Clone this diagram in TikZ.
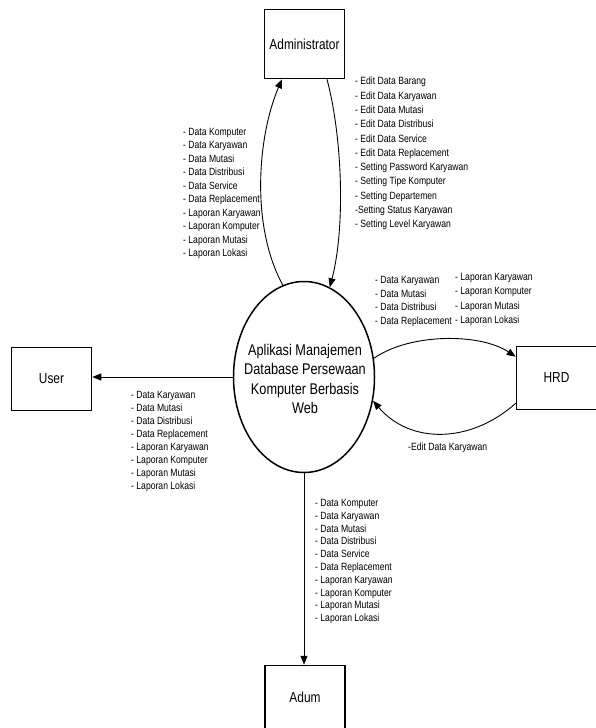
\documentclass[tikz,border=0pt]{standalone}
\usepackage{fontspec}
\setmainfont[FakeStretch=0.82]{Liberation Sans}
\usetikzlibrary{arrows.meta,shapes.geometric,calc}
\begin{document}
\begin{tikzpicture}[x=1pt,y=-1pt,
  ent/.style={draw, line width=1.5pt, minimum width=80pt, minimum height=63pt, inner sep=0pt, font=\fontsize{14.5}{17}\selectfont},
  flow/.style={line width=0.9pt, -{Triangle[length=9pt,width=7pt]}},
  lbl/.style={anchor=north west, inner sep=0pt, align=left},
  lblfont/.style={font=\fontsize{10.5}{#1}\selectfont},
]
\useasboundingbox (0,0) rectangle (596,728);
\clip (0,0) rectangle (596,728);

% process
\node[draw, ellipse, line width=1.5pt, minimum width=141pt, minimum height=191pt, inner sep=0pt] (proc) at (304,377) {};
\node[align=center, inner sep=0pt, font=\fontsize{15.5}{19.5}\selectfont] (proctext) at (305,379)
  {Aplikasi Manajemen\\Database Persewaan\\Komputer Berbasis\\Web};

% entities
\node[ent, minimum height=69pt] (adm) at (304.5,44) {Administrator};
\node[ent] (user) at (51.5,379) {User};
\node[ent] (hrd) at (556.5,378) {HRD};
\node[ent] (adum) at (305,697) {Adum};

% connectors
\draw[flow] (proc.103) .. controls (250,225) and (258,135) .. ($(adm.south)+(-22.5,0)$);
\draw[flow] ($(adm.south)+(22.5,0)$) .. controls (343,140) and (345,230) .. (proc.74);
\draw[flow] (proc.15) .. controls (410,333) and (480,333) .. ($(hrd.north west)+(0,11)$);
\draw[flow] ($(hrd.south west)+(0,-7)$) .. controls (470,444) and (410,444) .. (proc.-19);
\draw[flow] (proc.west) -- (proc.west -| user.east);
\draw[flow] (proc.south) -- (proc.south |- adum.north);

% labels
\node[lbl, lblfont=14.3] (admr) at (355,77) {- Edit Data Barang\\- Edit Data Karyawan\\- Edit Data Mutasi\\- Edit Data Distribusi\\- Edit Data Service\\- Edit Data Replacement\\- Setting Password Karyawan\\- Setting Tipe Komputer\\- Setting Departemen\\-Setting Status Karyawan\\- Setting Level Karyawan};
\node[lbl, lblfont=13.5] (adml) at (183,128) {- Data Komputer\\- Data Karyawan\\- Data Mutasi\\- Data Distribusi\\- Data Service\\- Data Replacement\\- Laporan Karyawan\\- Laporan Komputer\\- Laporan Mutasi\\- Laporan Lokasi};
\node[lbl, lblfont=13] (userl) at (131,391) {- Data Karyawan\\- Data Mutasi\\- Data Distribusi\\- Data Replacement\\- Laporan Karyawan\\- Laporan Komputer\\- Laporan Mutasi\\- Laporan Lokasi};
\node[lbl, lblfont=13.7] (hrdl1) at (375,276) {- Data Karyawan\\- Data Mutasi\\- Data Distribusi\\- Data Replacement};
\node[lbl, lblfont=14.3] (hrdl2) at (455,273) {- Laporan Karyawan\\- Laporan Komputer\\- Laporan Mutasi\\- Laporan Lokasi};
\node[lbl, lblfont=13] (hrdl3) at (408,443) {-Edit Data Karyawan};
\node[lbl, lblfont=12.8] (aduml) at (315,499) {- Data Komputer\\- Data Karyawan\\- Data Mutasi\\- Data Distribusi\\- Data Service\\- Data Replacement\\- Laporan Karyawan\\- Laporan Komputer\\- Laporan Mutasi\\- Laporan Lokasi};
\end{tikzpicture}
\end{document}
